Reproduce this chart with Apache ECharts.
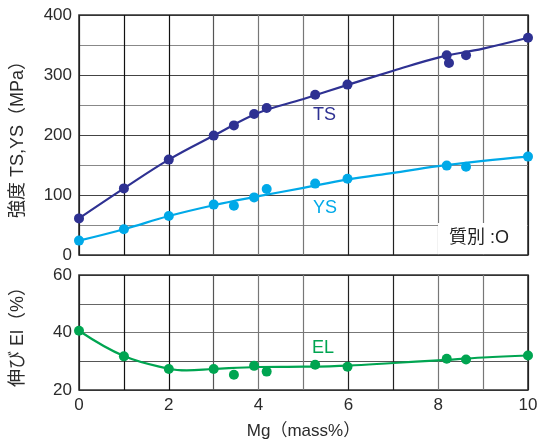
<!DOCTYPE html>
<html><head><meta charset="utf-8">
<script src="https://cdn.jsdelivr.net/npm/echarts@6/dist/echarts.min.js"></script>
<style>html,body{margin:0;padding:0;background:#fff}#c{width:543px;height:446px}</style>
</head><body><div id="c"></div>
<script>
// measured points
const tsMg = [0, 1, 2, 3, 3.45, 3.9, 4.18, 5.26, 5.98, 8.19, 8.24, 8.62, 10];
const tsVal = [61, 111, 159, 199, 216, 235, 245, 267, 284, 333, 320, 333, 362];
const ysMg = [0, 1, 2, 3, 3.45, 3.9, 4.18, 5.26, 5.98, 8.19, 8.62, 10];
const ysVal = [24, 43, 65, 84, 82, 96, 110, 119, 127, 149, 147, 164];
const elMg = [0, 1, 2, 3, 3.45, 3.9, 4.18, 5.26, 5.98, 8.19, 8.62, 10];
const elVal = [40.6, 31.7, 27.3, 27.3, 25.3, 28.4, 26.4, 28.8, 28.1, 30.9, 30.6, 32.0];
// fitted curves
const tsFitMg = [0, 1, 2, 3, 4, 5, 6, 7, 8, 9, 10];
const tsFitVal = [61, 111, 159, 199, 237, 260, 284, 307, 329, 344, 362];
const ysFitMg = [0, 1, 2, 3, 4, 5, 6, 7, 8, 9, 10];
const ysFitVal = [24, 43, 65, 83, 98, 112, 126, 137, 148, 157, 164];
const elFitMg = [0, 1, 2, 2.4, 3, 4, 5, 6, 7, 8, 9, 10];
const elFitVal = [40.6, 31.8, 27.4, 26.8, 27.3, 28.0, 28.1, 28.5, 29.4, 30.3, 31.3, 32.0];
const xTicks = [0, 2, 4, 6, 8, 10];

const zip = (a, b) => a.map((v, i) => [v, b[i]]);
const FONT = '"Liberation Sans", "Noto Sans CJK JP", sans-serif';
const TXT = '#2b2b2b';
const cTS = '#2e3192', cYS = '#00a9e8', cEL = '#00a551';
const vCols = ['#222', '#111', '#111', '#555', '#777', '#777', '#222', '#222', '#777', '#777', '#222'];

const chart = echarts.init(document.getElementById('c'));
const xBase = (gi, showLabel) => ({
  type: 'value', gridIndex: gi, min: 0, max: 10, interval: 1,
  axisLine: {show: false}, axisTick: {show: false},
  axisLabel: {show: showLabel, margin: 7, fontSize: 17, color: TXT, fontFamily: FONT,
    formatter: v => xTicks.indexOf(v) >= 0 ? String(v) : ''},
  splitLine: {show: true, lineStyle: {color: vCols, width: 1.2}}
});
chart.setOption({
  animation: false,
  textStyle: {fontFamily: FONT},
  grid: [
    {left: 79, top: 15, width: 449, height: 240, show: true, borderColor: '#333', borderWidth: 1.6, backgroundColor: 'transparent'},
    {left: 79, top: 275, width: 449, height: 115, show: true, borderColor: '#333', borderWidth: 1.6, backgroundColor: 'transparent'}
  ],
  xAxis: [
    xBase(0, false),
    Object.assign(xBase(1, true), {name: 'Mg（mass%）', nameLocation: 'middle', nameGap: 33,
      nameTextStyle: {fontSize: 17, color: TXT, fontFamily: FONT}})
  ],
  yAxis: [
    {type: 'value', gridIndex: 0, min: 0, max: 400, interval: 50,
      axisLine: {show: false}, axisTick: {show: false},
      axisLabel: {margin: 7, fontSize: 17, color: TXT, fontFamily: FONT, formatter: v => v % 100 === 0 ? String(v) : ''},
      splitLine: {lineStyle: {color: ['#333', '#888', '#444', '#888', '#444', '#888', '#444', '#888', '#333'], width: 1.2}},
      name: '強度 TS,YS（MPa）', nameLocation: 'middle', nameGap: 52, nameRotate: 90,
      nameTextStyle: {fontSize: 18, color: TXT, fontFamily: FONT}},
    {type: 'value', gridIndex: 1, min: 20, max: 60, interval: 10,
      axisLine: {show: false}, axisTick: {show: false},
      axisLabel: {margin: 7, fontSize: 17, color: TXT, fontFamily: FONT, formatter: v => v % 20 === 0 ? String(v) : ''},
      splitLine: {lineStyle: {color: ['#333', '#555', '#777', '#666', '#333'], width: 1.2}},
      name: '伸び El（%）', nameLocation: 'middle', nameGap: 52, nameRotate: 90,
      nameTextStyle: {fontSize: 18, color: TXT, fontFamily: FONT}}
  ],
  series: [
    {type: 'line', xAxisIndex: 0, yAxisIndex: 0, data: zip(tsFitMg, tsFitVal), smooth: 0.4, showSymbol: false, lineStyle: {color: cTS, width: 2.2}, z: 3},
    {type: 'line', xAxisIndex: 0, yAxisIndex: 0, data: zip(ysFitMg, ysFitVal), smooth: 0.4, showSymbol: false, lineStyle: {color: cYS, width: 2.2}, z: 3},
    {type: 'line', xAxisIndex: 1, yAxisIndex: 1, data: zip(elFitMg, elFitVal), smooth: 0.4, showSymbol: false, lineStyle: {color: cEL, width: 2.2}, z: 3},
    {type: 'scatter', xAxisIndex: 0, yAxisIndex: 0, data: zip(tsMg, tsVal), symbolSize: 10, itemStyle: {color: cTS, opacity: 1}, z: 4},
    {type: 'scatter', xAxisIndex: 0, yAxisIndex: 0, data: zip(ysMg, ysVal), symbolSize: 10, itemStyle: {color: cYS, opacity: 1}, z: 4},
    {type: 'scatter', xAxisIndex: 1, yAxisIndex: 1, data: zip(elMg, elVal), symbolSize: 10, itemStyle: {color: cEL, opacity: 1}, z: 4}
  ],
  graphic: [
    {type: 'text', left: 313, top: 106, style: {text: 'TS', fill: cTS, font: '18px ' + FONT}},
    {type: 'text', left: 313, top: 199, style: {text: 'YS', fill: cYS, font: '18px ' + FONT}},
    {type: 'text', left: 312, top: 339, style: {text: 'EL', fill: cEL, font: '18px ' + FONT}},
    {type: 'rect', left: 438, top: 223, z: 10, shape: {width: 89, height: 31}, style: {fill: '#fff'}},
    {type: 'text', left: 449, top: 229, z: 11, style: {text: '質別 :O', fill: '#222', font: '18px ' + FONT}}
  ]
});
</script></body></html>
